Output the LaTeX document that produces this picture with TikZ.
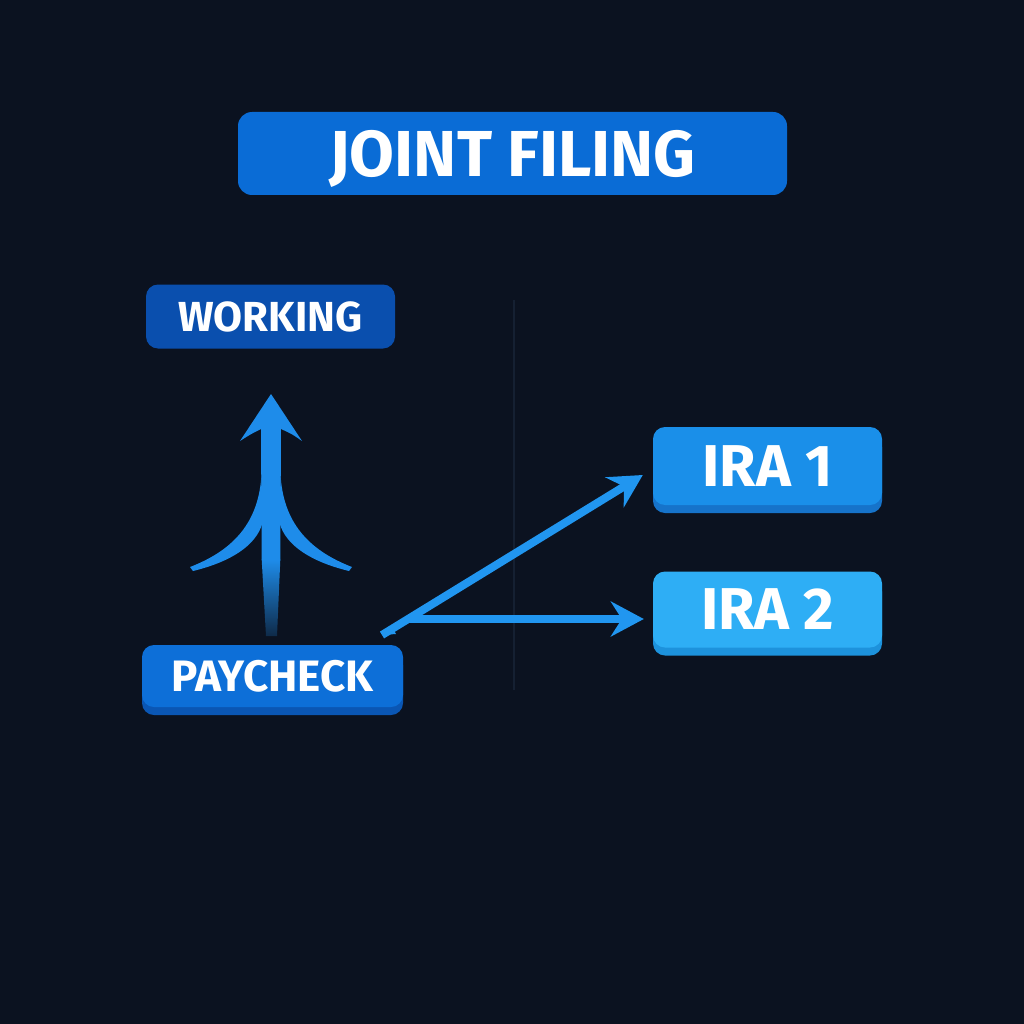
\documentclass[tikz,border=0pt]{standalone}
\usepackage{fontspec}
\setmainfont{Fira Sans}
\usetikzlibrary{arrows.meta,calc}
\definecolor{bg}{HTML}{0B1220}
\definecolor{titleblue}{HTML}{0A6CD6}
\definecolor{workblue}{HTML}{0A4FAE}
\definecolor{payblue}{HTML}{0D6FD8}
\definecolor{paylip}{HTML}{0A56B4}
\definecolor{iraoneblue}{HTML}{1A8FE9}
\definecolor{iraonelip}{HTML}{1673CA}
\definecolor{iratwoblue}{HTML}{2EAEF5}
\definecolor{iratwolip}{HTML}{1D92DC}
\definecolor{arrowblue}{HTML}{1E8CEA}
\definecolor{diagblue}{HTML}{2196F0}
\definecolor{faintline}{HTML}{152032}
\tikzset{
  box/.style={rounded corners=12pt, inner sep=0pt, text=white, font=\bfseries,
    align=center, text depth=0pt},
  lipbox/.style={box, preaction={fill=#1, transform canvas={yshift=-8pt}}},
  conn/.style={draw=diagblue, line width=8pt,
    -{Stealth[length=33pt, width=35pt, inset=11pt]}},
}
\begin{document}
\begin{tikzpicture}[x=1pt,y=-1pt]
\useasboundingbox (0,0) rectangle (1024,1024);
\fill[bg] (0,0) rectangle (1024,1024);

% faint vertical line
\draw[faintline, line width=1.2pt] (514,300) -- (514,690);

% nodes
\node[box, rounded corners=14pt, fill=titleblue, minimum width=549pt, minimum height=83pt,
      font=\bfseries\fontsize{65}{65}\selectfont] (title) at (512.5,153.5) {JOINT FILING};
\node[box, fill=workblue, minimum width=249pt, minimum height=64pt,
      font=\bfseries\fontsize{42}{42}\selectfont] (work) at (270.5,316.5) {WORKING};
\node[lipbox=paylip, fill=payblue, minimum width=261pt, minimum height=62pt,
      font=\bfseries\fontsize{44}{44}\selectfont] (pay) at (272.5,676) {PAYCHECK};
\node[lipbox=iraonelip, fill=iraoneblue, minimum width=229pt, minimum height=78pt,
      font=\bfseries\fontsize{59}{59}\selectfont] (ira1) at (767.5,466) {IRA 1};
\node[lipbox=iratwolip, fill=iratwoblue, minimum width=229pt, minimum height=76pt,
      font=\bfseries\fontsize{59}{59}\selectfont] (ira2) at (767.5,609.5) {IRA 2};

% up arrow from paycheck toward working (drawn shape)
\coordinate (upbase) at (271.5,636);
\coordinate (uptip) at (271,394);
% shaft
\fill[arrowblue] (261,428) -- (281,428) -- (280.3,560) -- (261.7,560) -- cycle;
\shade[top color=arrowblue, bottom color=arrowblue!20!bg]
  (261.7,559.5) -- (280.3,559.5) -- (277,636) -- (266,636) -- cycle;
% head
\fill[arrowblue] (uptip) -- (302,441) .. controls (292,434) .. (281,429)
  -- (261,429) .. controls (251,434) .. (240,441) -- cycle;
% branches
\fill[arrowblue] (261.5,474) .. controls (259,522) and (234,550) .. (190,567)
  -- (193,571) .. controls (230,562) and (256,546) .. (262.5,523) -- cycle;
\fill[arrowblue] (280.5,474) .. controls (283,522) and (308,550) .. (352,567)
  -- (349,571) .. controls (312,562) and (286,546) .. (279.5,523) -- cycle;

% diagonal connectors
\coordinate (src) at (382,635);
\coordinate (split) at (408,619);
\draw[conn] (src) -- ([xshift=-10pt,yshift=-9pt]ira1.west);
\draw[conn] (split) -- ([xshift=-9pt]split -| ira2.west);
\fill[diagblue] (src) -- (392,627) -- (396,634) -- cycle;
\end{tikzpicture}
\end{document}
